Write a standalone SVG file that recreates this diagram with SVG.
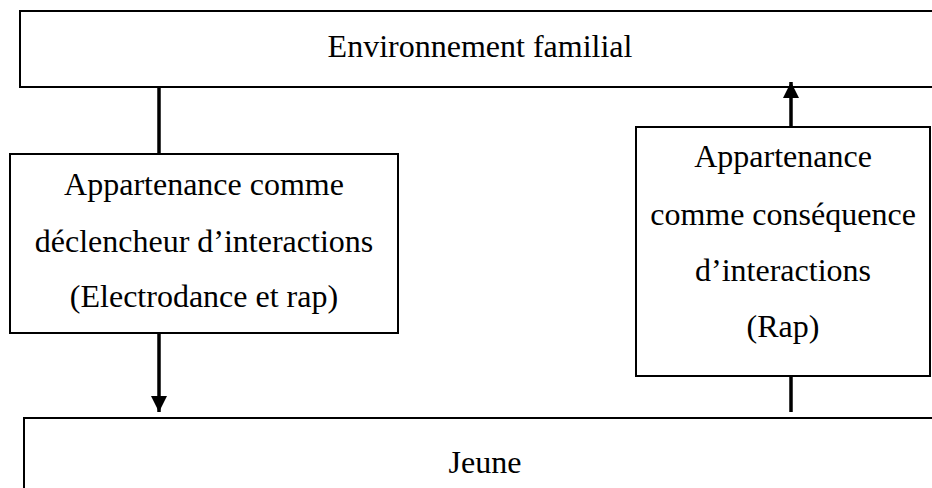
<svg xmlns="http://www.w3.org/2000/svg" width="932" height="488" viewBox="0 0 932 488">
<style>
.box{fill:#fff;stroke:#000;stroke-width:2}
.t{font-family:"Liberation Serif","Times New Roman",serif;font-size:32px;fill:#000;text-anchor:middle}
.c{stroke:#000;stroke-width:3.5;fill:none}
</style>
<defs>
<marker id="ah" markerUnits="userSpaceOnUse" markerWidth="16" markerHeight="16" refX="16" refY="8" orient="auto">
<path d="M0,0 L16,8 L0,16 Z" fill="#000"/>
</marker>
</defs>
<rect width="932" height="488" fill="#fff"/>
<g id="env">
<rect class="box" x="20" y="11" width="930" height="76"/>
<text class="t" x="480" y="57">Environnement familial</text>
</g>
<g id="declencheur">
<rect class="box" x="10" y="154" width="388" height="179"/>
<text class="t" x="204" y="195">Appartenance comme</text>
<text class="t" x="204" y="252">déclencheur d’interactions</text>
<text class="t" x="204" y="307">(Electrodance et rap)</text>
</g>
<g id="consequence">
<rect class="box" x="636" y="127" width="294" height="249"/>
<text class="t" x="783" y="167">Appartenance</text>
<text class="t" x="783" y="225">comme conséquence</text>
<text class="t" x="783" y="281">d’interactions</text>
<text class="t" x="783" y="337">(Rap)</text>
</g>
<g id="jeune">
<rect class="box" x="24" y="418" width="930" height="100"/>
<text class="t" x="485" y="473">Jeune</text>
</g>
<g id="connectors">
<line class="c" x1="159" y1="87" x2="159" y2="154"/>
<line class="c" x1="159" y1="333" x2="159" y2="412" marker-end="url(#ah)"/>
<line class="c" x1="791" y1="412" x2="791" y2="376"/>
<line class="c" x1="791" y1="127" x2="791" y2="82" marker-end="url(#ah)"/>
</g>
</svg>
